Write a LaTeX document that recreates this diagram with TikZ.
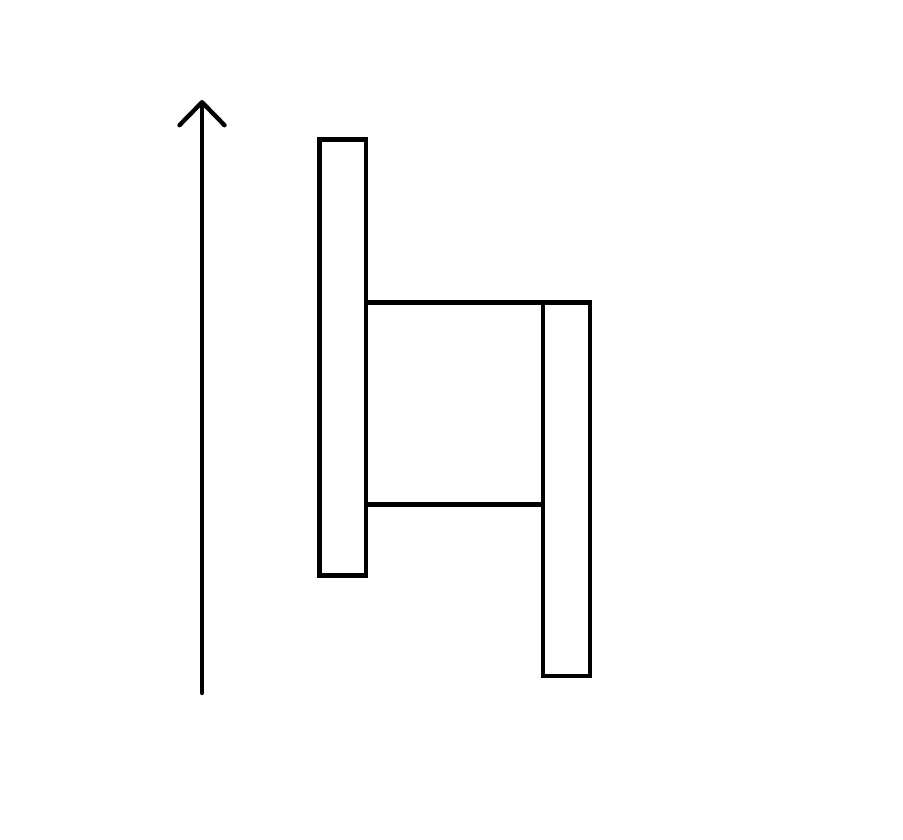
\documentclass[tikz,border=0pt]{standalone}
\usepackage{tikz}
\usetikzlibrary{arrows.meta,positioning,calc}
\tikzset{
  barbox/.style={rectangle,draw=black,line width=2.5pt,inner sep=0pt,outer sep=0pt,minimum width=0.93cm},
  link/.style={line width=2.5pt,draw=black},
  arrow/.style={-{Straight Barb[length=4.6mm,width=9mm,round]},line width=2.5pt,line cap=round,draw=black}
}
\begin{document}
\begin{tikzpicture}[x=0.02cm,y=-0.02cm]
  \useasboundingbox (0,0) rectangle (903,839);
  \node[barbox, minimum height=8.72cm] (upper) at (342.6,357.6) {};
  \node[barbox, minimum width=0.95cm, minimum height=7.47cm] (lower) at (566.5,489.4) {};
  \coordinate (base) at (202,693);
  \coordinate (tip) at (202,100);
  \coordinate (mid) at (0,504.3);

  \draw[arrow] (base) -- (tip);
  \draw[link] (upper.east |- lower.north) -- (lower.north west);
  \draw[link] (upper.east |- mid) -- (lower.west |- mid);
\end{tikzpicture}
\end{document}
